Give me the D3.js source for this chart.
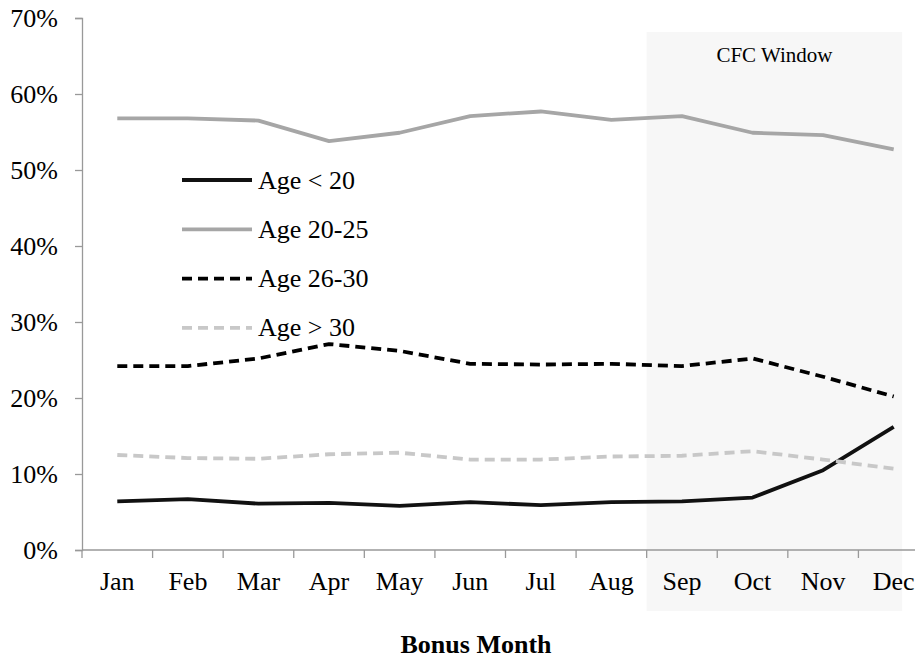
<!DOCTYPE html>
<html>
<head>
<meta charset="utf-8">
<script src="https://cdn.jsdelivr.net/npm/d3@7"></script>
<style>
  html, body { margin: 0; padding: 0; background: #fff; }
  svg, svg text { font-family: "Liberation Serif", "Times New Roman", "DejaVu Serif", serif; }
  svg { display: block; }
</style>
</head>
<body>
<svg id="chart" width="915" height="658"></svg>
<script>
const months = ["Jan","Feb","Mar","Apr","May","Jun","Jul","Aug","Sep","Oct","Nov","Dec"];
const yTicks = [0, 0.1, 0.2, 0.3, 0.4, 0.5, 0.6, 0.7];
const ageUnder20 = [6.4, 6.7, 6.1, 6.2, 5.8, 6.3, 5.9, 6.3, 6.4, 6.9, 10.5, 16.2];
const age20to25  = [56.8, 56.8, 56.5, 53.8, 54.9, 57.1, 57.7, 56.6, 57.1, 54.9, 54.6, 52.7];
const age26to30  = [24.2, 24.2, 25.2, 27.1, 26.2, 24.5, 24.4, 24.5, 24.2, 25.2, 22.8, 20.2];
const ageOver30  = [12.5, 12.1, 12.0, 12.6, 12.8, 11.9, 11.9, 12.3, 12.4, 13.0, 11.9, 10.7];
const seriesNames = ["Age < 20", "Age 20-25", "Age 26-30", "Age > 30"];
const highlightMonths = ["Sep", "Oct", "Nov", "Dec"];

(function () {
const FONT = '"Liberation Serif", "Times New Roman", serif';
const series = [
  { name: seriesNames[0], values: ageUnder20, color: "#111111", dash: null, width: 3.8 },
  { name: seriesNames[1], values: age20to25, color: "#a6a6a6", dash: null, width: 3.8 },
  { name: seriesNames[2], values: age26to30, color: "#000000", dash: "10,6", width: 3.8 },
  { name: seriesNames[3], values: ageOver30, color: "#c8c8c8", dash: "10,6", width: 3.8 }
];

const svg = d3.select("#chart");
const mLeft = 82, mRight = 929, mTop = 18, mBottom = 550;

const x = d3.scaleBand().domain(months).range([mLeft, mRight]).padding(0);
const y = d3.scaleLinear().domain([0, 0.7]).range([mBottom, mTop]);
const cx = m => x(m) + x.bandwidth() / 2;

// CFC window shading
const hx0 = x(highlightMonths[0]);
const hx1 = x(highlightMonths[highlightMonths.length - 1]) + x.bandwidth() * 0.62;
svg.append("rect")
  .attr("x", hx0).attr("y", 32)
  .attr("width", hx1 - hx0).attr("height", 611 - 32)
  .attr("fill", "#f7f7f7");

svg.append("text")
  .attr("x", (hx0 + hx1) / 2).attr("y", 62)
  .attr("text-anchor", "middle")
  .attr("font-family", FONT)
  .attr("font-size", 21)
  .attr("fill", "#000")
  .text("CFC Window");

// Y axis
const yAxis = d3.axisLeft(y).tickValues(yTicks).tickFormat(d3.format(".0%")).tickSize(7).tickPadding(17);
const gy = svg.append("g").attr("transform", `translate(${mLeft},0)`).call(yAxis)
  .attr("font-family", FONT).attr("font-size", 26);
gy.select(".domain").attr("stroke", "#999").attr("stroke-width", 1.3);
gy.selectAll(".tick line").attr("stroke", "#999").attr("stroke-width", 1.3);
gy.selectAll(".tick text").attr("font-size", 26).attr("font-family", FONT).attr("fill", "#000");

// X axis
const gx = svg.append("g").attr("transform", `translate(0,${mBottom})`)
  .attr("font-family", FONT);
gx.append("line").attr("x1", mLeft).attr("x2", mRight).attr("stroke", "#999").attr("stroke-width", 1.3);
gx.selectAll("line.tk").data(months).join("line").attr("class", "tk")
  .attr("x1", d => x(d)).attr("x2", d => x(d)).attr("y1", 0).attr("y2", 8)
  .attr("stroke", "#999").attr("stroke-width", 1.3);
gx.selectAll("text").data(months).join("text")
  .attr("x", d => cx(d)).attr("y", 40)
  .attr("text-anchor", "middle").attr("font-size", 26).attr("font-family", FONT).attr("fill", "#000")
  .text(d => d);

svg.append("text")
  .attr("x", 476).attr("y", 653)
  .attr("text-anchor", "middle").attr("font-size", 26).attr("font-weight", "bold")
  .attr("font-family", FONT)
  .text("Bonus Month");

// Lines
const line = d3.line().x((d, i) => cx(months[i])).y(d => y(d / 100));
series.forEach(s => {
  svg.append("path")
    .datum(s.values)
    .attr("d", line)
    .attr("fill", "none")
    .attr("stroke", s.color)
    .attr("stroke-width", s.width)
    .attr("stroke-dasharray", s.dash)
    .attr("stroke-linejoin", "round");
});

// Legend
const lg = svg.append("g").attr("font-family", FONT);
series.forEach((s, i) => {
  const ly = 180 + i * 49.3;
  lg.append("line")
    .attr("x1", 182).attr("x2", 252).attr("y1", ly).attr("y2", ly)
    .attr("stroke", s.color).attr("stroke-width", s.width)
    .attr("stroke-dasharray", s.dash);
  lg.append("text")
    .attr("x", 258).attr("y", ly + 8.5)
    .attr("font-size", 26).attr("font-family", FONT).attr("fill", "#000")
    .text(s.name);
});
})();
</script>
</body>
</html>
